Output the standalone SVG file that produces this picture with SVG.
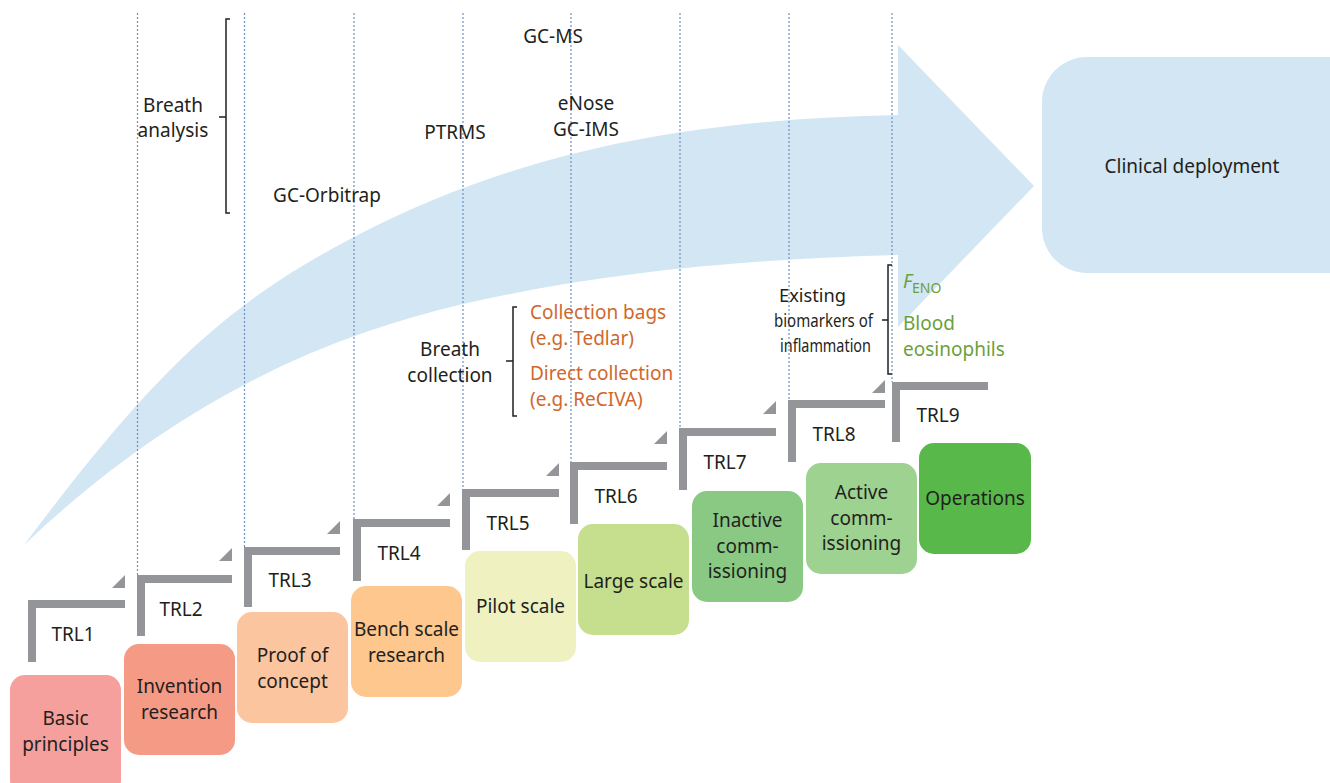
<svg xmlns="http://www.w3.org/2000/svg" width="1330" height="783" viewBox="0 0 1330 783">
<style>
text{font-family:"Noto Sans","Open Sans","Liberation Sans",sans-serif;font-size:19px;fill:#231f20}
.c{text-anchor:middle}
.or{fill:#d0682c}
.gr{fill:#6c9f3e}
.sm{font-size:18px}
.dot{stroke:#6f90c4;stroke-width:1.2;stroke-dasharray:2 2;fill:none}
.step{stroke:#939598;stroke-width:8;fill:none;stroke-linejoin:miter}
.tri{fill:#939598}
.br{stroke:#231f20;stroke-width:1.5;fill:none}
.blue{fill:#d2e6f3}
</style>
<rect width="1330" height="783" fill="#ffffff"/>
<g id="arrow">
<path class="blue" d="M24,545 C154,372 224,305 354,237 C535,142 717,119 898,115 L898,45 L1034,186 L898,327 L898,255 C753,259 608,271 463,304 C317,338 170,406 24,545 Z"/>
</g>
<g id="clinical">
<rect class="blue" x="1042" y="57" width="340" height="216" rx="45"/>
<text class="c" x="1192" y="173">Clinical deployment</text>
</g>
<g id="connectors">
<path class="dot" d="M137.5,13V575M244.5,13V547M354,13V519M463,13V489M571,13V462M680,13V428M789,13V400M892,13V382"/>
<path class="step" d="M32,662V604H125"/>
<path class="step" d="M141,636V579H232"/>
<path class="step" d="M248,607V551H340"/>
<path class="step" d="M357,581V523H450"/>
<path class="step" d="M466,550V493H559"/>
<path class="step" d="M574,524V466H667"/>
<path class="step" d="M683,490V432H776"/>
<path class="step" d="M792,462V404H885"/>
<path class="step" d="M896,442V386H988"/>
<path class="tri" d="M125,575V588H112Z"/>
<path class="tri" d="M232,548V561H219Z"/>
<path class="tri" d="M340,521V534H327Z"/>
<path class="tri" d="M450,493V506H437Z"/>
<path class="tri" d="M559,463V476H546Z"/>
<path class="tri" d="M667,431V444H654Z"/>
<path class="tri" d="M776,401V414H763Z"/>
<path class="tri" d="M885,380V393H872Z"/>
<path class="br" d="M230,19H226V213H230M219,117H226"/>
<path class="br" d="M517,307H513V416H517M506,361H513"/>
<path class="br" d="M892,265H888V374H892M882,320H888"/>
</g>
<g id="trl-labels">
<text class="c" x="73" y="641">TRL1</text>
<text class="c" x="181" y="616">TRL2</text>
<text class="c" x="290" y="587">TRL3</text>
<text class="c" x="399" y="560">TRL4</text>
<text class="c" x="508" y="530">TRL5</text>
<text class="c" x="616" y="503">TRL6</text>
<text class="c" x="725" y="469">TRL7</text>
<text class="c" x="834" y="441">TRL8</text>
<text class="c" x="938" y="422">TRL9</text>
</g>
<g id="n1"><rect x="10" y="675" width="111" height="120" rx="15" fill="#f5a09d"/><text class="c" x="65.5" y="725">Basic</text><text class="c" x="65.5" y="751">principles</text></g>
<g id="n2"><rect x="124" y="644" width="111" height="111" rx="15" fill="#f59a85"/><text class="c" x="179.5" y="693">Invention</text><text class="c" x="179.5" y="719">research</text></g>
<g id="n3"><rect x="237" y="612" width="111" height="111" rx="15" fill="#fbc5a0"/><text class="c" x="292.5" y="662">Proof of</text><text class="c" x="292.5" y="688">concept</text></g>
<g id="n4"><rect x="351" y="586" width="111" height="111" rx="15" fill="#fdc78d"/><text class="c" x="406.5" y="636">Bench scale</text><text class="c" x="406.5" y="662">research</text></g>
<g id="n5"><rect x="465" y="551" width="111" height="111" rx="15" fill="#eff2c0"/><text class="c" x="520.5" y="613">Pilot scale</text></g>
<g id="n6"><rect x="578" y="524" width="111" height="111" rx="15" fill="#c5df8f"/><text class="c" x="633.5" y="588">Large scale</text></g>
<g id="n7"><rect x="692" y="491" width="111" height="111" rx="15" fill="#89c984"/><text class="c" x="747.5" y="527">Inactive</text><text class="c" x="747.5" y="553">comm-</text><text class="c" x="747.5" y="578">issioning</text></g>
<g id="n8"><rect x="806" y="463" width="111" height="111" rx="15" fill="#9dd290"/><text class="c" x="861.5" y="499">Active</text><text class="c" x="861.5" y="525">comm-</text><text class="c" x="861.5" y="550">issioning</text></g>
<g id="n9"><rect x="919" y="443" width="112" height="111" rx="15" fill="#58b84a"/><text class="c" x="975" y="505">Operations</text></g>
<g id="breath-analysis">
<text class="c" x="173" y="112">Breath</text>
<text class="c" x="173" y="137">analysis</text>
<text class="c" x="327" y="202">GC-Orbitrap</text>
<text class="c" x="455" y="139">PTRMS</text>
<text class="c" x="553" y="43">GC-MS</text>
<text class="c" x="586" y="110">eNose</text>
<text class="c" x="586" y="136">GC-IMS</text>
</g>
<g id="breath-collection">
<text class="c" x="450" y="356">Breath</text>
<text class="c" x="450" y="382">collection</text>
<text class="or" x="530" y="319">Collection bags</text>
<text class="or" x="530" y="345">(e.g. Tedlar)</text>
<text class="or" x="530" y="380">Direct collection</text>
<text class="or" x="530" y="406">(e.g. ReCIVA)</text>
</g>
<g id="biomarkers">
<text class="sm" x="779" y="302" textLength="67" lengthAdjust="spacingAndGlyphs">Existing</text>
<text class="sm" x="774" y="327" textLength="99" lengthAdjust="spacingAndGlyphs">biomarkers of</text>
<text class="sm" x="780" y="352" textLength="91" lengthAdjust="spacingAndGlyphs">inflammation</text>
<text class="gr" x="903" y="288"><tspan font-style="italic">F</tspan><tspan font-size="14" dy="5">ENO</tspan></text>
<text class="gr" x="903" y="330">Blood</text>
<text class="gr" x="903" y="356">eosinophils</text>
</g>
</svg>
